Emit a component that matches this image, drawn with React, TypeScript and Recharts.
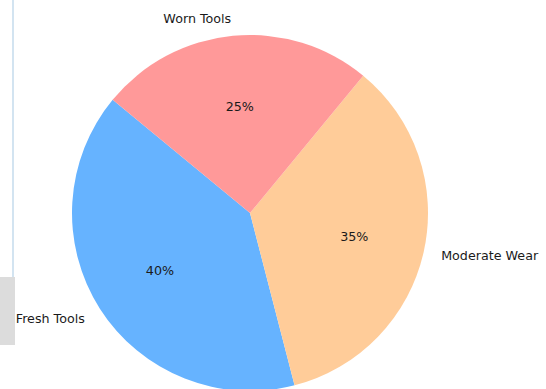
import { Cell, Pie, PieChart } from 'recharts'

const CATEGORIES = ['Fresh Tools', 'Moderate Wear', 'Worn Tools']
const SHARES = [40, 35, 25]
const COLORS = ['#66b3ff', '#ffcc99', '#ff9999']

const data = CATEGORIES.map((name, i) => ({ name, value: SHARES[i] }))

const RAD = Math.PI / 180
const FONT = '"DejaVu Sans", sans-serif'

function SliceLabel(props: any) {
  const { cx, cy, midAngle, outerRadius, percent, name } = props
  const cos = Math.cos(-midAngle * RAD)
  const sin = Math.sin(-midAngle * RAD)
  const nx = cx + outerRadius * 1.1 * cos
  const ny = cy + outerRadius * 1.1 * sin
  const px = cx + outerRadius * 0.6 * cos
  const py = cy + outerRadius * 0.6 * sin

  return (
    <g>
      <text
        x={nx}
        y={ny}
        textAnchor={cos > 0 ? 'start' : 'end'}
        dominantBaseline="central"
        fill="#1a1a1a"
        fontSize={12.7}
        fontFamily={FONT}
      >
        {name}
      </text>
      <text
        x={px}
        y={py}
        textAnchor="middle"
        dominantBaseline="central"
        fill="#1a1a1a"
        fontSize={12.7}
        fontFamily={FONT}
      >
        {`${Math.round(percent * 100)}%`}
      </text>
    </g>
  )
}

export default function App() {
  return (
    <div
      style={{
        position: 'absolute',
        left: 0,
        top: 0,
        width: 546,
        height: 389,
        background: '#fff',
        overflow: 'hidden',
      }}
    >
      {/* leftover bits from the page behind the chart */}
      <div
        style={{
          position: 'absolute',
          left: 12,
          top: 0,
          width: 2,
          height: 277,
          background: '#d3e4f1',
        }}
      />
      <div
        style={{
          position: 'absolute',
          left: 0,
          top: 277,
          width: 15,
          height: 68,
          background: '#dcdcdc',
        }}
      />
      <div style={{ position: 'absolute', left: 0, top: 0 }}>
        <PieChart
          width={546}
          height={389}
          margin={{ top: 0, right: 0, bottom: 0, left: 0 }}
        >
          <Pie
            data={data}
            dataKey="value"
            nameKey="name"
            cx={250}
            cy={213}
            outerRadius={178}
            startAngle={140.5}
            endAngle={500.5}
            stroke="none"
            labelLine={false}
            label={SliceLabel}
            isAnimationActive={false}
          >
            {data.map((entry, i) => (
              <Cell key={entry.name} fill={COLORS[i]} />
            ))}
          </Pie>
        </PieChart>
      </div>
    </div>
  )
}
